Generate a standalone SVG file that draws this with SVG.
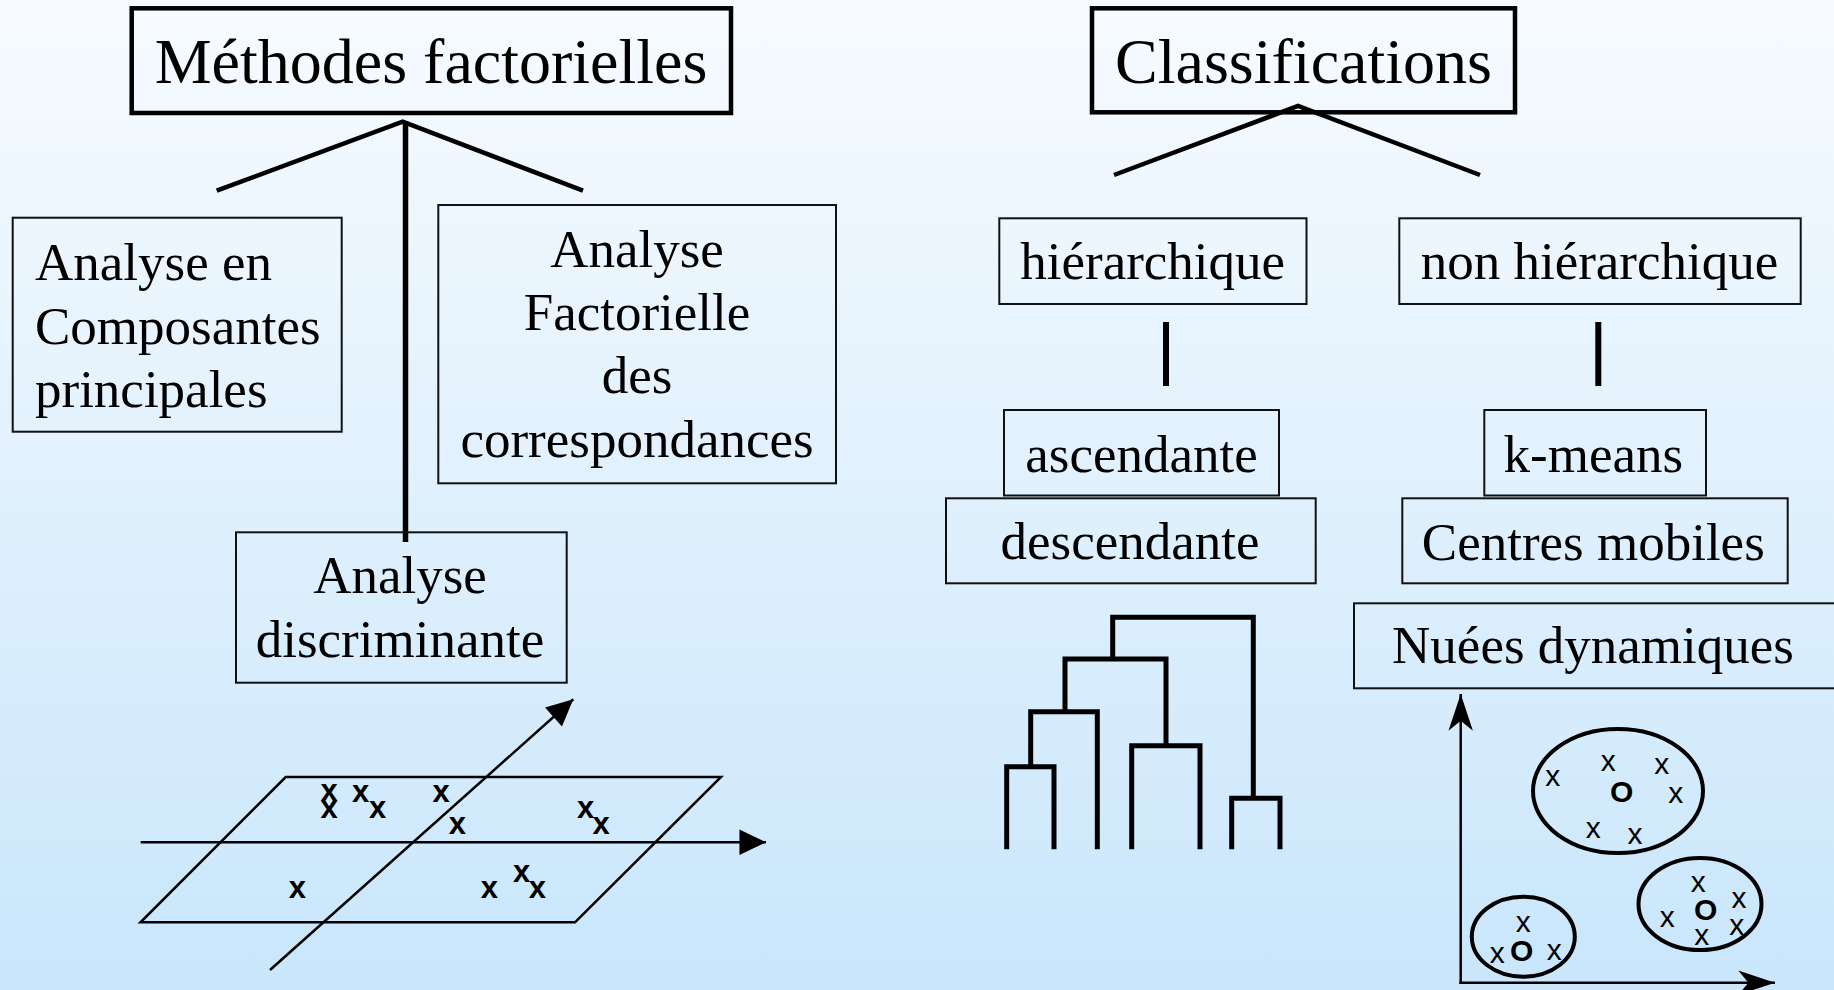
<svg xmlns="http://www.w3.org/2000/svg" width="1834" height="990" viewBox="0 0 1834 990">
  <defs>
    <linearGradient id="bg" x1="0" y1="0" x2="0" y2="1">
      <stop offset="0" stop-color="#f7fbff"/>
      <stop offset="1" stop-color="#c9e6fb"/>
    </linearGradient>
    <!-- solid triangular head for the factor-plane axes -->
    <marker id="tri" markerUnits="userSpaceOnUse" markerWidth="30" markerHeight="30" viewBox="-24 -12 26 24" refX="0" refY="0" orient="auto">
      <path d="M0,0 L-23,-11 L-23,11 Z" fill="#000"/>
    </marker>
    <!-- narrow swept head for the cluster-plot axes -->
    <marker id="stealth" markerUnits="userSpaceOnUse" markerWidth="40" markerHeight="30" viewBox="-34 -12 36 24" refX="0" refY="0" orient="auto">
      <path d="M0,0 L-33,-11 L-24,0 L-33,11 Z" fill="#000"/>
    </marker>
    <style>
      .t { font-family: "Liberation Serif", "Times New Roman", serif; font-size: 53px; fill: #000; }
      .mid { text-anchor: middle; }
      .title { font-size: 64px; }
      .box { fill: none; stroke: #111; stroke-width: 2; }
      .tbox { fill: none; stroke: #000; stroke-width: 4.5; }
      .link { stroke: #000; fill: none; }
      .thin { stroke: #000; stroke-width: 2.5; fill: none; }
      .tree { stroke: #000; stroke-width: 5; fill: none; stroke-linejoin: miter; }
      .ell { stroke: #000; stroke-width: 4; fill: none; }
      .bx { font-family: "Liberation Sans", Arial, sans-serif; font-weight: bold; font-size: 31px; text-anchor: middle; fill: #000; }
      .sx { font-family: "Liberation Sans", Arial, sans-serif; font-size: 30px; text-anchor: middle; fill: #000; }
      .so { font-family: "Liberation Sans", Arial, sans-serif; font-weight: bold; font-size: 30px; text-anchor: middle; fill: #000; }
    </style>
  </defs>

  <rect x="0" y="0" width="1834" height="990" fill="url(#bg)"/>

  <!-- tree connectors -->
  <g id="connectors">
    <polyline class="link" stroke-width="4.5" points="216.7,190.7 402.7,121.7 583,190.7"/>
    <line class="link" stroke-width="5.5" x1="405.5" y1="121" x2="405.5" y2="542"/>
    <polyline class="link" stroke-width="4.5" points="1114,175 1298,106 1480,175"/>
    <line class="link" stroke-width="6" x1="1166" y1="322" x2="1166" y2="386"/>
    <line class="link" stroke-width="6" x1="1598.3" y1="322" x2="1598.3" y2="386"/>
  </g>

  <!-- left branch: factor methods -->
  <g id="methodes-factorielles">
    <rect class="tbox" x="131.7" y="8.3" width="599.3" height="104.7"/>
    <text class="t title mid" x="431" y="83.3">Méthodes factorielles</text>
  </g>

  <g id="acp">
    <rect class="box" x="12.7" y="217.7" width="329" height="214"/>
    <text class="t" x="35" y="280">Analyse en</text>
    <text class="t" x="35" y="343.5">Composantes</text>
    <text class="t" x="35" y="407">principales</text>
  </g>

  <g id="afc">
    <rect class="box" x="438.3" y="205" width="397.7" height="278.3"/>
    <text class="t mid" x="637" y="266.7">Analyse</text>
    <text class="t mid" x="637" y="330">Factorielle</text>
    <text class="t mid" x="637" y="393.3">des</text>
    <text class="t mid" x="637" y="457.3">correspondances</text>
  </g>

  <g id="analyse-discriminante">
    <rect class="box" x="236" y="532.3" width="330.7" height="150.4"/>
    <text class="t mid" x="400" y="593.3">Analyse</text>
    <text class="t mid" x="400" y="656.7">discriminante</text>
  </g>

  <!-- factor plane with its axes and observations -->
  <g id="factor-plane">
    <polygon class="thin" points="285.7,777 721,777 575,922.3 140.5,922.3"/>
    <line class="thin" stroke-width="3" x1="140.7" y1="842.3" x2="766" y2="842.3" marker-end="url(#tri)"/>
    <line class="thin" x1="270" y1="970" x2="573.3" y2="699.3" marker-end="url(#tri)"/>
    <text class="bx" x="329" y="801.3">x</text>
    <text class="bx" x="329" y="818">x</text>
    <text class="bx" x="360.7" y="802.3">x</text>
    <text class="bx" x="377.7" y="818">x</text>
    <text class="bx" x="441" y="802.3">x</text>
    <text class="bx" x="457.3" y="833.7">x</text>
    <text class="bx" x="585.7" y="818">x</text>
    <text class="bx" x="601" y="833.7">x</text>
    <text class="bx" x="297.3" y="898">x</text>
    <text class="bx" x="489.3" y="898">x</text>
    <text class="bx" x="521.7" y="882.3">x</text>
    <text class="bx" x="537.3" y="898">x</text>
  </g>

  <!-- right branch: classifications -->
  <g id="classifications">
    <rect class="tbox" x="1092" y="8.3" width="423" height="104"/>
    <text class="t title mid" x="1303.5" y="83.3">Classifications</text>
  </g>

  <g id="hierarchique">
    <rect class="box" x="999.3" y="218.3" width="307.2" height="85.7"/>
    <text class="t mid" x="1152.7" y="279.3">hiérarchique</text>
  </g>

  <g id="non-hierarchique">
    <rect class="box" x="1399.3" y="218.3" width="401.4" height="85.7"/>
    <text class="t mid" x="1599.5" y="279.3">non hiérarchique</text>
  </g>

  <g id="ascendante">
    <rect class="box" x="1004" y="410" width="275" height="85.5"/>
    <text class="t mid" x="1141.5" y="471.7">ascendante</text>
  </g>

  <g id="descendante">
    <rect class="box" x="946" y="498.3" width="369.7" height="85"/>
    <text class="t mid" x="1130" y="559">descendante</text>
  </g>

  <g id="k-means">
    <rect class="box" x="1484.3" y="410" width="221.7" height="85.5"/>
    <text class="t mid" x="1593.3" y="471.7">k-means</text>
  </g>

  <g id="centres-mobiles">
    <rect class="box" x="1402.3" y="498.3" width="385.4" height="85"/>
    <text class="t mid" x="1593.3" y="560">Centres mobiles</text>
  </g>

  <g id="nuees-dynamiques">
    <rect class="box" x="1354" y="603.3" width="490" height="85"/>
    <text class="t mid" x="1593" y="663.3">Nuées dynamiques</text>
  </g>

  <!-- dendrogram -->
  <g id="dendrogram">
    <path class="tree" d="M1006.7,849.3 V766.7 H1054 V849.3"/>
    <path class="tree" d="M1131.7,849.3 V745.7 H1200 V849.3"/>
    <path class="tree" d="M1231.7,849.3 V798.3 H1280 V849.3"/>
    <path class="tree" d="M1030.7,766.7 V711.7 H1097.3 V849.3"/>
    <path class="tree" d="M1065,711.7 V659 H1166 V745.7"/>
    <path class="tree" d="M1112.7,659 V617.3 H1253.3 V798.3"/>
  </g>

  <!-- cluster plot: axes, groups, points and centres -->
  <g id="cluster-plot">
    <line class="thin" x1="1460.7" y1="984" x2="1460.7" y2="694" marker-end="url(#stealth)"/>
    <line class="thin" x1="1459.5" y1="982.7" x2="1775" y2="982.7" marker-end="url(#stealth)"/>
    <ellipse class="ell" cx="1618" cy="791" rx="85" ry="62"/>
    <ellipse class="ell" cx="1700" cy="904" rx="61.5" ry="46"/>
    <ellipse class="ell" cx="1523.3" cy="936.7" rx="51.5" ry="40"/>
    <text class="sx" x="1552.7" y="786">x</text>
    <text class="sx" x="1608.3" y="771">x</text>
    <text class="sx" x="1661.7" y="774">x</text>
    <text class="sx" x="1675.7" y="803">x</text>
    <text class="sx" x="1593.3" y="838">x</text>
    <text class="sx" x="1635" y="843.5">x</text>
    <text class="so" x="1621.7" y="802.4">O</text>
    <text class="sx" x="1698.3" y="892">x</text>
    <text class="sx" x="1739" y="908">x</text>
    <text class="sx" x="1667.3" y="927">x</text>
    <text class="sx" x="1736.7" y="934.5">x</text>
    <text class="sx" x="1701.7" y="944.5">x</text>
    <text class="so" x="1705.7" y="919.7">O</text>
    <text class="sx" x="1523.3" y="932">x</text>
    <text class="sx" x="1497.3" y="963">x</text>
    <text class="sx" x="1554.3" y="959.5">x</text>
    <text class="so" x="1521.7" y="961.4">O</text>
  </g>
</svg>
